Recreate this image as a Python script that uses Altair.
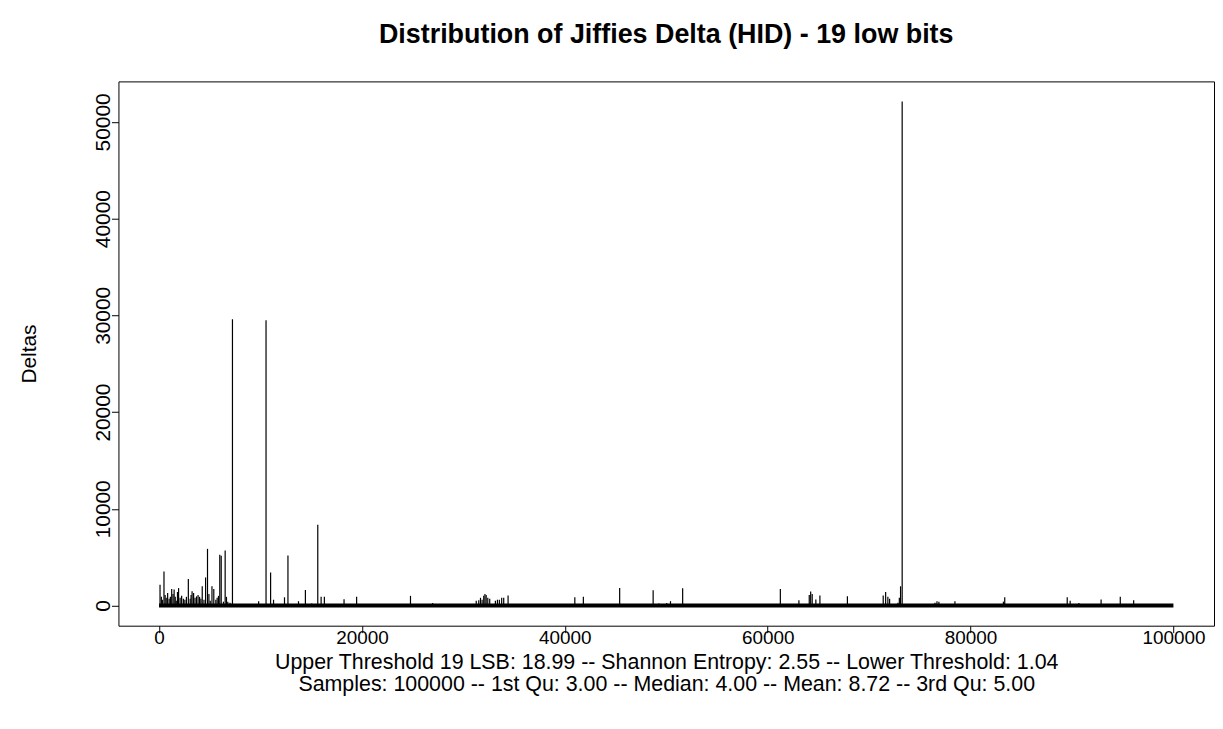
import altair as alt
import pandas as pd

# ---- data ----
spike_idx = [
    100, 230, 330, 490, 600, 710, 850, 1000, 1120, 1250, 1380, 1490, 1600, 1700, 1820,
    1930, 2080, 2230, 2400, 2550, 2700, 2890, 3070, 3160, 3260, 3410, 3550, 3700, 3850,
    4000, 4130, 4260, 4430, 4590, 4780, 4920, 5050, 5220, 5400, 5600, 5730, 5860, 5990,
    6130, 6350, 6520, 6650, 6780, 7000, 7240,
    9820, 10550, 11000, 11290, 12370, 12710, 13750, 14430, 15060, 15650, 15980, 16300,
    18240, 19480, 24790, 26980,
    31270, 31520, 31690, 31850, 32010, 32130, 32250, 32410, 32600, 33160, 33360, 33550,
    33780, 33980, 34410, 34830,
    40990, 41830, 42390, 45410, 48710, 49270, 50050, 50420, 51620,
    61250, 63080, 64100, 64240, 64390, 64750, 65150, 67860,
    71390, 71630, 71850, 72020, 72840, 72980, 73100, 73260,
    76490, 76690, 76880, 78460, 80980, 83240, 83370, 89530, 89820, 90680, 92870, 94760,
    96080,
]
spike_val = [
    2150, 900, 600, 3530, 1100, 800, 1300, 700, 900, 1700, 1200, 1650, 900, 500, 1400,
    1800, 800, 1000, 700, 600, 900, 2740, 700, 1100, 1470, 1300, 800, 950, 1100,
    900, 700, 1990, 600, 2900, 5860, 1200, 500, 1990, 1700, 600, 800, 1000, 5240,
    5150, 400, 5680, 900, 400, 300, 29600,
    450, 29500, 3420, 600, 850, 5170, 450, 1600, 200, 8350, 900, 900,
    650, 900, 1000, 250,
    500, 550, 800, 600, 1000, 1200, 1100, 800, 700, 500, 600, 600,
    800, 800, 1030, 150,
    860, 920, 150, 1820, 1580, 200, 250, 450, 1780,
    1720, 550, 1100, 1440, 1200, 630, 1030, 960,
    1030, 1400, 900, 700, 300, 800, 1990, 52100,
    300, 440, 400, 440, 150, 400, 860, 860, 500, 250, 630, 920,
    550,
]
baseline_from = [1]
baseline_to = [100000]
baseline_val = [0]

x_ticks = [0, 20000, 40000, 60000, 80000, 100000]
y_ticks = [0, 10000, 20000, 30000, 40000, 50000]

title_text = "Distribution of Jiffies Delta (HID) - 19 low bits"
x_title = [
    "Upper Threshold 19 LSB: 18.99 -- Shannon Entropy: 2.55 -- Lower Threshold: 1.04",
    "Samples: 100000 -- 1st Qu: 3.00 -- Median: 4.00 -- Mean: 8.72 -- 3rd Qu: 5.00",
]
y_title = "Deltas"

# ---- R-like axis ranges (4% extension) ----
n_samples = 100000
ymax = max(spike_val)
xpad = (n_samples - 1) * 0.04
ypad = ymax * 0.04
x_dom = [1 - xpad, n_samples + xpad]
y_dom = [0 - ypad, ymax + ypad]

spikes = pd.DataFrame({"idx": spike_idx, "delta": spike_val})
base = pd.DataFrame({"idx": baseline_from, "idx2": baseline_to, "delta": baseline_val})

FONT = "Liberation Sans"
W, H = 1101, 547

xscale = alt.Scale(domain=x_dom, nice=False, zero=False)
yscale = alt.Scale(domain=y_dom, nice=False, zero=False)

x_axis = alt.Axis(
    values=x_ticks, format="d", domain=False, grid=False,
    tickSize=7, tickColor="black", tickWidth=1,
    labelFontSize=19, labelFont=FONT, labelColor="black", labelPadding=-4,
    labelFlush=False, labelOverlap=False, labelBaseline="top",
    title=x_title, titleFont=FONT, titleFontSize=21.5, titleFontWeight="normal",
    titleColor="black", titleLineHeight=22.5, titleX=W / 2, titleY=26,
    titleAlign="center", titleBaseline="top", titleAngle=0,
)
y_axis = alt.Axis(
    values=y_ticks, format="d", domain=False, grid=False,
    tickSize=7, tickColor="black", tickWidth=1,
    labelFontSize=21, labelFont=FONT, labelColor="black", labelPadding=2,
    labelAngle=270, labelAlign="center", labelBaseline="alphabetic",
    labelFlush=False, labelOverlap=False,
    title=y_title, titleFont=FONT, titleFontSize=21, titleFontWeight="normal",
    titleColor="black", titleAngle=270, titleX=-89, titleY=H / 2,
    titleAlign="center", titleBaseline="middle",
)

spike_layer = alt.Chart(spikes).mark_rule(color="black", strokeWidth=1.2).encode(
    x=alt.X("idx:Q", scale=xscale, axis=x_axis),
    y=alt.Y("delta:Q", scale=yscale, axis=y_axis),
    y2=alt.datum(0),
)

base_layer = alt.Chart(base).mark_rule(color="black", strokeWidth=4).encode(
    x=alt.X("idx:Q", scale=xscale, axis=x_axis),
    x2="idx2:Q",
    y=alt.Y("delta:Q", scale=yscale, axis=y_axis),
)

chart = (
    alt.layer(spike_layer, base_layer)
    .properties(
        width=W,
        height=H,
        title=alt.TitleParams(
            text=title_text, font=FONT, fontSize=27, fontWeight="bold",
            color="black", anchor="middle", baseline="bottom", offset=6,
        ),
        autosize=alt.AutoSizeParams(type="none"),
        padding={"left": 111, "top": 72, "right": 1, "bottom": 90},
        background="white",
    )
    .configure_view(stroke="black", strokeWidth=1)
)

chart.save("out.html", embed_options={"renderer": "svg", "actions": False})
